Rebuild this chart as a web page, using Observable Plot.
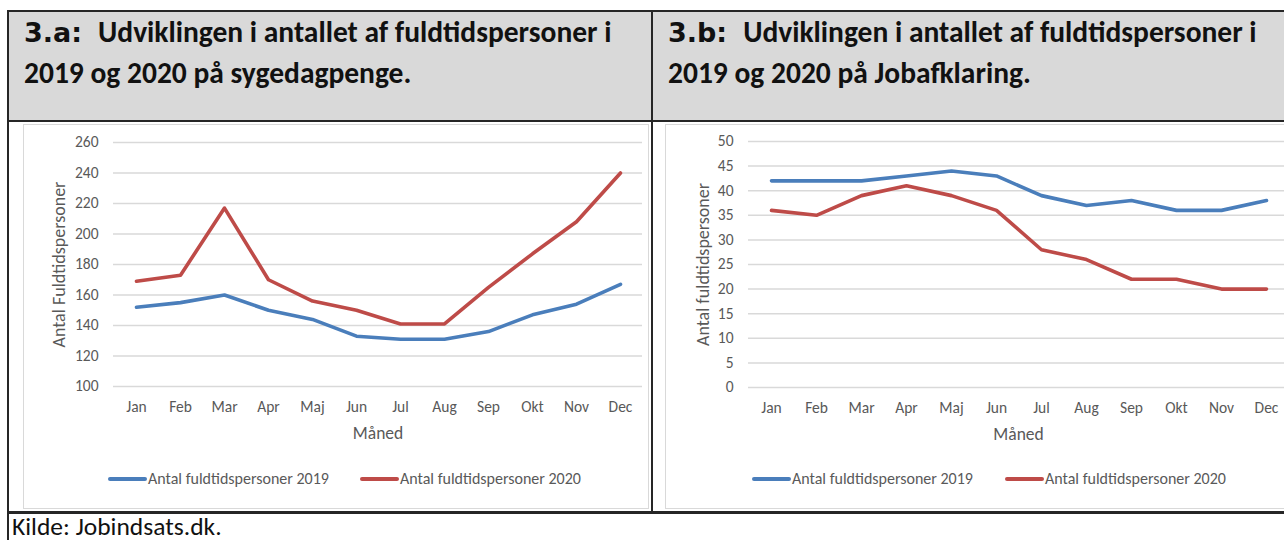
<!DOCTYPE html>
<html>
<head>
<meta charset="utf-8">
<script src="https://cdn.jsdelivr.net/npm/d3@7"></script>
<script src="https://cdn.jsdelivr.net/npm/@observablehq/plot@0.6"></script>
<style>
  html, body { margin: 0; padding: 0; background: #fff; overflow: hidden; width: 1284px; height: 540px; }
  .abs { position: absolute; }
  .abs svg { max-width: none !important; }
  .hline { position: absolute; height: 2px; background: #262626; }
  .vline { position: absolute; width: 2px; background: #262626; }
  .hdr { position: absolute; background: #d9d9d9; }
  .title { position: absolute; font-family: Carlito, Calibri, "Liberation Sans Narrow", "Open Sans", sans-serif; font-weight: bold; font-size: 29.5px; color: #111; line-height: 40px; white-space: nowrap; }
  .title .num { font-family: "DejaVu Sans", Verdana, sans-serif; font-size: 27px; margin-right: 16px; }
  .frame { position: absolute; border: 1.5px solid #d9d9d9; box-sizing: border-box; }
  .legend { position: absolute; font-family: Carlito, Calibri, "Liberation Sans Narrow", "Open Sans", sans-serif; font-size: 16px; color: #595959; white-space: nowrap; }
  .legend span.sw { display: inline-block; width: 39px; height: 4px; border-radius: 2px; vertical-align: middle; margin-right: 1px; position: relative; top: -1px; }
  .legend .item { position: absolute; top: 0; }
  .kilde { position: absolute; left: 12px; top: 511px; font-family: Carlito, Calibri, "Liberation Sans Narrow", "Open Sans", sans-serif; font-size: 25.5px; color: #111; white-space: nowrap; }
  svg { font-family: Carlito, Calibri, "Liberation Sans Narrow", "Open Sans", sans-serif; }
</style>
</head>
<body>
<div class="hdr" style="left:9px; top:11px; width:643px; height:110px;"></div>
<div class="hdr" style="left:653px; top:11px; width:640px; height:110px;"></div>

<div class="title" style="left:24px; top:12px;"><span class="num">3.a:</span>Udviklingen i antallet af fuldtidspersoner i<br>2019 og 2020 på sygedagpenge.</div>
<div class="title" style="left:668px; top:12px;"><span class="num">3.b:</span>Udviklingen i antallet af fuldtidspersoner i<br>2019 og 2020 på Jobafklaring.</div>

<div class="frame" style="left:23px; top:124px; width:626px; height:385px;"></div>
<div class="frame" style="left:665px; top:124px; width:640px; height:385px;"></div>

<div id="chartA" class="abs" style="left:20px; top:124px; width:630px;"></div>
<div id="chartB" class="abs" style="left:664px; top:124px; width:632px;"></div>

<div id="legendA" class="legend" style="left:0; top:469px;"></div>
<div id="legendB" class="legend" style="left:0; top:469px;"></div>

<div class="hline" style="left:8px; top:10px; width:1290px;"></div>
<div class="hline" style="left:8px; top:120px; width:1290px;"></div>
<div class="hline" style="left:8px; top:511px; width:1290px; height:3px;"></div>
<div class="vline" style="left:7px; top:10px; height:540px;"></div>
<div class="vline" style="left:651px; top:10px; height:502px;"></div>

<div class="kilde">Kilde: Jobindsats.dk.</div>

<script>
const months = ["Jan","Feb","Mar","Apr","Maj","Jun","Jul","Aug","Sep","Okt","Nov","Dec"];
const seriesNames = ["Antal fuldtidspersoner 2019", "Antal fuldtidspersoner 2020"];
const seriesColors = ["#4a7ebb", "#be4b48"];

// 3.a Sygedagpenge
const sdp2019 = [152, 155, 160, 150, 144, 133, 131, 131, 136, 147, 154, 167];
const sdp2020 = [169, 173, 217, 170, 156, 150, 141, 141, 165, 187, 208, 240];
const ticksA = [100, 120, 140, 160, 180, 200, 220, 240, 260];

// 3.b Jobafklaring
const jaf2019 = [42, 42, 42, 43, 44, 43, 39, 37, 38, 36, 36, 38];
const jaf2020 = [36, 35, 39, 41, 39, 36, 28, 26, 22, 22, 20, 20];
const ticksB = [0, 5, 10, 15, 20, 25, 30, 35, 40, 45, 50];

function toRows(a, b) {
  const rows = [];
  months.forEach((m, i) => rows.push({month: m, value: a[i], series: seriesNames[0]}));
  months.forEach((m, i) => rows.push({month: m, value: b[i], series: seriesNames[1]}));
  return rows;
}

function makeChart({rows, ticks, domain, width, marginLeft, marginRight, marginTop, marginBottom, yTitle, yTitleDx}) {
  return Plot.plot({
    width, height: 330,
    marginLeft, marginRight, marginTop, marginBottom,
    style: {fontSize: "15.5px", color: "#595959", background: "transparent", overflow: "visible", maxWidth: "none"},
    x: {type: "point", domain: months, padding: 0.5, label: null},
    y: {domain, label: null},
    color: {domain: seriesNames, range: seriesColors},
    marks: [
      Plot.gridY(ticks, {stroke: "#d9d9d9", strokeOpacity: 1, strokeWidth: 1.5}),
      Plot.axisX({tickSize: 0, tickPadding: 14, label: null, fill: "#595959"}),
      Plot.axisY(ticks, {tickSize: 0, tickPadding: 15, label: null, fill: "#595959"}),
      Plot.line(rows, {x: "month", y: "value", z: "series", stroke: "series", strokeWidth: 3.6, strokeLinejoin: "round", strokeLinecap: "round"}),
      Plot.text(["Måned"], {frameAnchor: "bottom", dy: 52, fontSize: 17.5, fill: "#595959"}),
      Plot.text([yTitle], {frameAnchor: "left", textAnchor: "middle", dx: yTitleDx, rotate: -90, fontSize: 18, fill: "#595959"})
    ]
  });
}

document.getElementById("chartA").appendChild(makeChart({
  rows: toRows(sdp2019, sdp2020), ticks: ticksA, domain: [100, 260],
  width: 630, marginLeft: 93, marginRight: 8, marginTop: 18, marginBottom: 68,
  yTitle: "Antal Fuldtidspersoner", yTitleDx: -54
}));
document.getElementById("chartB").appendChild(makeChart({
  rows: toRows(jaf2019, jaf2020), ticks: ticksB, domain: [0, 50],
  width: 632, marginLeft: 84, marginRight: 8, marginTop: 17, marginBottom: 67,
  yTitle: "Antal fuldtidspersoner", yTitleDx: -45
}));

function legend(id, positions) {
  const el = document.getElementById(id);
  seriesNames.forEach((name, i) => {
    const it = document.createElement("div");
    it.className = "item";
    it.style.left = positions[i] + "px";
    it.innerHTML = `<span class="sw" style="background:${seriesColors[i]}"></span>${name}`;
    el.appendChild(it);
  });
}
legend("legendA", [108, 360]);
legend("legendB", [752, 1005]);
</script>
</body>
</html>
